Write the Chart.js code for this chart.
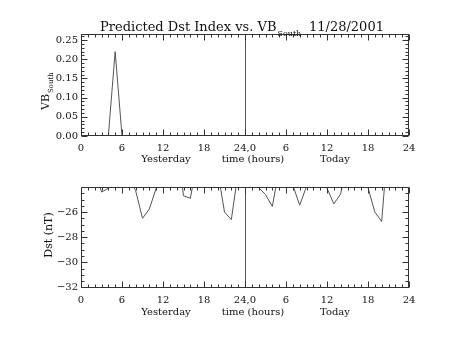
<!DOCTYPE html>
<html>
<head>
<meta charset="utf-8">
<script src="https://cdn.jsdelivr.net/npm/chart.js@4.4.0/dist/chart.umd.min.js"></script>
<style>
  body { margin: 0; background: #fff; }
  #wrap { position: relative; width: 454px; height: 341px; }
  canvas { position: absolute; left: 0; }
</style>
</head>
<body>
<div id="wrap">
  <canvas id="vb" width="454" height="170" style="top:0"></canvas>
  <canvas id="dst" width="454" height="171" style="top:170px"></canvas>
</div>
<script>
// hours since start of yesterday
const hours = [0, 1, 2, 3, 4, 5, 6, 7, 8, 9, 10, 11, 12, 13, 14, 15, 16, 17, 18, 19, 20, 21, 22, 23, 24,
  25, 26, 27, 28, 29, 30, 31, 32, 33, 34, 35, 36, 37, 38, 39, 40, 41, 42, 43, 44, 45, 46, 47, 48];

const vbSouth = [0, 0, 0, 0, 0, 0.22, 0, 0, 0, 0, 0, 0, 0, 0, 0, 0, 0, 0, 0, 0, 0, 0, 0, 0, 0,
  0, 0, 0, 0, 0, 0, 0, 0, 0, 0, 0, 0, 0, 0, 0, 0, 0, 0, 0, 0, 0, 0, 0, 0];

const dst = [-22, -21.5, -22.5, -24.4, -24.1, -23, -22, -23.2, -24.3, -26.5, -25.75, -24.1, -22.5,
  -21.5, -20, -24.7, -24.9, -22, -21.5, -22, -22.7, -26.0, -26.6, -22.8, -22,
  -22.5, -24.05, -24.6, -25.55, -22.5, -22.5, -23.85, -25.45, -23.95, -22.5, -22, -24.1,
  -25.35, -24.55, -21.8, -22, -22.5, -24.05, -26.0, -26.75, -20, -21, -22, -22];

const xTicks = [0, 6, 12, 18, 24, 30, 36, 42, 48];
const xTickLabels = ["0", "6", "12", "18", "24,0", "6", "12", "18", "24"];
const vbTicks = [0, 0.05, 0.1, 0.15, 0.2, 0.25];
const dstTicks = [-32, -30, -28, -26];

Chart.defaults.font.family = "'DejaVu Serif'";
Chart.defaults.font.size = 10;
Chart.defaults.color = "#111";

// box with inward ticks on all four sides, IDL style
const framePlugin = {
  id: "frame",
  afterDatasetsDraw(chart, args, opts) {
    const { ctx, chartArea: a, scales } = chart;
    const x = scales.x, y = scales.y;
    const L = Math.round(a.left) + 0.5, R = Math.round(a.right) - 0.5;
    const T = Math.round(a.top) + 0.5, B = Math.round(a.bottom) - 0.5;
    ctx.save();
    ctx.lineWidth = 1;

    // day divider
    const px = Math.round(x.getPixelForValue(24)) + 0.5;
    ctx.strokeStyle = "#555";
    ctx.beginPath();
    ctx.moveTo(px, T); ctx.lineTo(px, B);
    ctx.stroke();

    ctx.strokeStyle = "#333";
    ctx.strokeRect(L, T, R - L, B - T);
    ctx.beginPath();
    for (let h = 0; h <= 48; h += 1) {
      const p = Math.round(x.getPixelForValue(h)) + 0.5;
      const len = xTicks.includes(h) ? 6 : 3;
      ctx.moveTo(p, B); ctx.lineTo(p, B - len);
      ctx.moveTo(p, T); ctx.lineTo(p, T + len);
    }
    const n = Math.round((y.max - y.min) / opts.yMinor);
    for (let i = 0; i <= n; i++) {
      const v = +(opts.yFrom + i * opts.yMinor).toFixed(4);
      if (v > y.max) break;
      const p = Math.round(y.getPixelForValue(v)) + 0.5;
      const len = opts.yMajor.some(m => Math.abs(m - v) < 1e-6) ? 6 : 3;
      ctx.moveTo(L, p); ctx.lineTo(L + len, p);
      ctx.moveTo(R, p); ctx.lineTo(R - len, p);
    }
    ctx.stroke();
    ctx.restore();
  },
  afterDraw(chart, args, opts) {
    const ctx = chart.ctx;
    ctx.save();
    ctx.fillStyle = "#111";
    ctx.textBaseline = "alphabetic";
    ctx.textAlign = "center";
    ctx.font = "10px 'DejaVu Serif'";
    ctx.fillText("Yesterday", 166, opts.captionY);
    ctx.fillText("time (hours)", 253, opts.captionY);
    ctx.fillText("Today", 335, opts.captionY);
    if (opts.draw) opts.draw(ctx);
    ctx.restore();
  }
};

function makeChart(id, values, yMin, yMax, yTicks, fmt, pad, xHeight, frame) {
  return new Chart(document.getElementById(id), {
    type: "line",
    data: {
      datasets: [{
        data: hours.map((h, i) => ({ x: h, y: values[i] })),
        borderColor: "#555",
        borderWidth: 1,
        pointRadius: 0,
        tension: 0,
        fill: false
      }]
    },
    options: {
      responsive: false,
      animation: false,
      layout: { padding: { left: 0, top: pad, right: 45, bottom: 0 } },
      plugins: { legend: { display: false }, tooltip: { enabled: false }, frame: frame },
      scales: {
        x: {
          type: "linear",
          min: 0,
          max: 48,
          grid: { display: false, drawTicks: false },
          border: { display: false },
          afterBuildTicks: s => { s.ticks = xTicks.map(v => ({ value: v })); },
          afterFit: s => { s.height = xHeight; },
          ticks: {
            padding: 6,
            maxRotation: 0,
            autoSkip: false,
            callback: (v) => xTickLabels[xTicks.indexOf(v)]
          }
        },
        y: {
          min: yMin,
          max: yMax,
          grid: { display: false, drawTicks: false },
          border: { display: false },
          afterBuildTicks: s => { s.ticks = yTicks.map(v => ({ value: v })); },
          afterFit: s => { s.width = 81; },
          ticks: { padding: 3, callback: fmt }
        }
      }
    },
    plugins: [framePlugin]
  });
}

makeChart("vb", vbSouth, 0, 0.266, vbTicks, v => v.toFixed(2), 34, 34, {
  yFrom: 0, yMinor: 0.01, yMajor: vbTicks, captionY: 162,
  draw(ctx) {
    ctx.textAlign = "left";
    ctx.font = "13px 'DejaVu Serif'";
    const main = "Predicted Dst Index vs. VB";
    ctx.fillText(main, 100, 30.5);
    const w = ctx.measureText(main).width;
    ctx.fillText("11/28/2001", 309, 30.5);
    ctx.font = "8px 'DejaVu Serif'";
    ctx.fillText("South", 100 + w + 1, 36);

    ctx.translate(48.5, 110);
    ctx.rotate(-Math.PI / 2);
    ctx.font = "11px 'DejaVu Serif'";
    ctx.fillText("VB", 0, 0);
    const wv = ctx.measureText("VB").width;
    ctx.font = "7px 'DejaVu Serif'";
    ctx.fillText("South", wv + 1, 4);
  }
});

makeChart("dst", dst, -32.05, -24, dstTicks, v => String(v).replace("-", "\u2212"), 17, 53, {
  yFrom: -32, yMinor: 0.5, yMajor: dstTicks, captionY: 145,
  draw(ctx) {
    ctx.translate(52, 65);
    ctx.rotate(-Math.PI / 2);
    ctx.textAlign = "center";
    ctx.font = "11px 'DejaVu Serif'";
    ctx.fillText("Dst (nT)", 0, 0);
  }
});
</script>
</body>
</html>
